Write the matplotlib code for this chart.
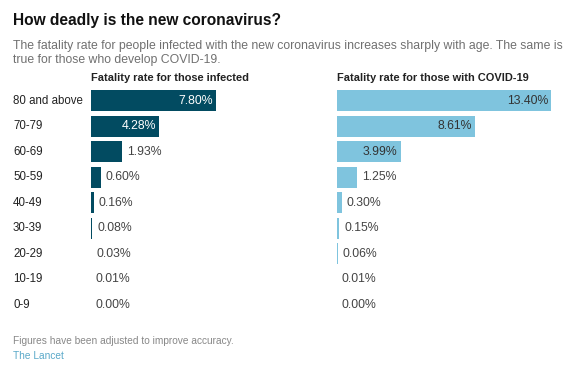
import numpy as np
import matplotlib.pyplot as plt

ages = ["80 and above", "70-79", "60-69", "50-59", "40-49", "30-39", "20-29", "10-19", "0-9"]
infected = [7.80, 4.28, 1.93, 0.60, 0.16, 0.08, 0.03, 0.01, 0.00]
covid = [13.40, 8.61, 3.99, 1.25, 0.30, 0.15, 0.06, 0.01, 0.00]

W, H = 583, 367
fig = plt.figure(figsize=(W / 100, H / 100), dpi=100)
plt.rcParams['font.family'] = ['Liberation Sans', 'DejaVu Sans']

dark = "#024b61"
light = "#7fc4de"

def px_axes(x, y, w, h):
    # pixel box (top-left origin) -> figure fraction
    return fig.add_axes([x / W, 1 - (y + h) / H, w / W, h / H])

row_top, row_step = 88, 25.5
ax_h = row_step * len(ages)

def panel(x0, vals, color, title, inside_color):
    ax = px_axes(x0, row_top, 232, ax_h)
    y = np.arange(len(vals))
    ax.barh(y, vals, height=0.83, color=color)
    ax.set_xlim(0, 14.5)
    ax.set_ylim(len(vals) - 0.5, -0.5)
    ax.axis("off")
    for i, v in enumerate(vals):
        s = "%.2f%%" % v
        if v >= 3:
            ax.text(v - 0.2, i, s, ha="right", va="center", fontsize=8.8, color=inside_color)
        else:
            ax.text(v + 0.3, i, s, ha="left", va="center", fontsize=8.8, color="#444444")
    fig.text(x0 / W, 1 - 78 / H, title, fontsize=7.9, fontweight="bold", color="#222222", va="center")
    return ax

panel(91, infected, dark, "Fatality rate for those infected", "white")
panel(337, covid, light, "Fatality rate for those with COVID-19", "#333333")

for i, a in enumerate(ages):
    fig.text(13 / W, 1 - (row_top + row_step * (i + 0.5)) / H, a, fontsize=8.3, color="#222222", va="center")

fig.text(13 / W, 1 - 20 / H, "How deadly is the new coronavirus?", fontsize=11.2, fontweight="bold", color="#111111", va="center")
fig.text(13 / W, 1 - 46 / H, "The fatality rate for people infected with the new coronavirus increases sharply with age. The same is",
         fontsize=8.8, color="#707070", va="center")
fig.text(13 / W, 1 - 60 / H, "true for those who develop COVID-19.", fontsize=8.8, color="#707070", va="center")
fig.text(13 / W, 1 - 341 / H, "Figures have been adjusted to improve accuracy.", fontsize=7.3, color="#888888", va="center")
fig.text(13 / W, 1 - 356 / H, "The Lancet", fontsize=7.3, color="#5aa9c9", va="center")

fig.savefig("out.png", dpi=100, facecolor="white")
